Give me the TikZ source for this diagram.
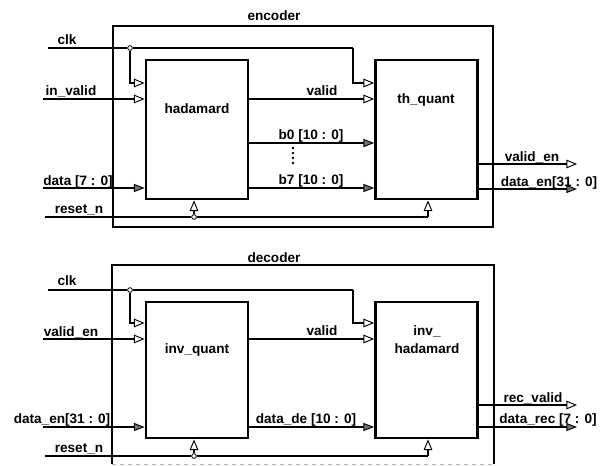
\documentclass[tikz,border=0pt]{standalone}
\usepackage{fontspec}
\setmainfont{Liberation Sans}
\usepackage{tikz}
\usetikzlibrary{arrows.meta,positioning,calc}

\begin{document}
\begin{tikzpicture}[
    x=0.75pt, y=-0.75pt,
    font=\fontsize{10.2}{11}\selectfont\bfseries,
    frame/.style={rectangle, draw, line width=1.4pt, minimum width=285pt, minimum height=#1, inner sep=0pt},
    unit/.style={rectangle, draw, line width=2.1pt, minimum width=76.5pt, minimum height=#1, inner sep=0pt},
    wire/.style={line width=0.9pt},
    sig/.style={wire, -{Triangle[open, length=8pt, width=6.5pt, line width=0.7pt]}},
    bus/.style={wire, -{Triangle[length=8pt, width=6pt, line width=0.7pt, fill=black!55]}},
    tap/.style={circle, draw, fill=white, line width=0.6pt, inner sep=0pt, minimum size=3.5pt},
    txt/.style={anchor=base, inner sep=0pt},
]
\useasboundingbox (0,0) rectangle (614,465);

% --- Encoder ---
\node[frame=150.75pt] (enc) at (303,126.5) {};
\node[txt] (enc-lbl) at (274,20) {encoder};
\node[unit=104.25pt] (had) at (197,129.5) {};
\node[unit=104.25pt] (thq) at (426.5,129.5) {};
\node[txt] (had-lbl) at (197,113) {hadamard};
\node[txt] (thq-lbl) at (426,103) {th\_quant};

\coordinate (e-clk) at (48,48);
\coordinate (e-clk-k) at (353,48);
\coordinate (e-in) at (43,99);
\coordinate (e-data) at (43,188);
\coordinate (e-rst) at (45,217);
\coordinate (e-rst-k) at (428,217);
\coordinate (e-ven) at (577,164);
\coordinate (e-den) at (577,189);
\node[tap] (e-clk-j) at (130,48) {};
\node[tap] (e-rst-j) at (194,217) {};

% --- Encoder wires ---
\draw[wire] (e-clk) -- (e-clk-j) -- (e-clk-k);
\draw[sig] (e-clk-k) |- (thq.west |- 0,83);
\draw[sig] (e-clk-j) |- (had.west |- 0,83);
\draw[sig] (e-in) -- (had.west |- e-in);
\draw[bus] (e-data) -- (had.west |- e-data);
\draw[sig] (had.east |- 0,99) -- (thq.west |- 0,99);
\draw[bus] (had.east |- 0,143) -- (thq.west |- 0,143);
\draw[bus] (had.east |- 0,188) -- (thq.west |- 0,188);
\draw[wire] (e-rst) -- (e-rst-j) -- (e-rst-k);
\draw[sig] (e-rst-k) -- (thq.south -| e-rst-k);
\draw[sig] (e-rst-j) -- (had.south -| e-rst-j);
\draw[sig] (thq.east |- e-ven) -- (e-ven);
\draw[bus] (thq.east |- e-den) -- (e-den);
\foreach \y in {148,153,158,163}
  \fill (293,\y) circle (1.3);

% --- Encoder labels ---
\node[txt] (e-clk-l) at (67,44) {clk};
\node[txt] (e-in-l) at (71,95) {in\_valid};
\node[txt] (e-data-l) at (78,185) {data [7 : 0]};
\node[txt] (e-rst-l) at (79,213) {reset\_n};
\node[txt] (e-val-l) at (322,95) {valid};
\node[txt] (e-b0-l) at (311,139) {b0 [10 : 0]};
\node[txt] (e-b7-l) at (311,184) {b7 [10 : 0]};
\node[txt] (e-ven-l) at (532,161) {valid\_en};
\node[txt] (e-den-l) at (549,186) {data\_en[31 : 0]};

% --- Decoder ---
\node[frame=147.75pt, draw=none] (dec) at (303,364.5) {};
\draw[line width=1.4pt] (dec.south west) |- (dec.north east) -- (dec.south east);
\draw[black!30, line width=0.6pt, dashed] (dec.south west) -- (dec.south east);
\node[txt] (dec-lbl) at (274,262) {decoder};
\node[unit=102pt] (iq) at (197,370) {};
\node[unit=102pt] (ih) at (426.5,370) {};
\node[txt] (iq-lbl) at (197,353) {inv\_quant};
\node[txt, align=center] (ih-lbl) at (427,353) {inv\_\\[2pt]hadamard};

\coordinate (d-clk) at (48,290);
\coordinate (d-clk-k) at (353,290);
\coordinate (d-in) at (43,339);
\coordinate (d-data) at (43,427);
\coordinate (d-rst) at (45,456);
\coordinate (d-rst-k) at (428,456);
\coordinate (d-rv) at (577,405);
\coordinate (d-dr) at (577,427);
\node[tap] (d-clk-j) at (130,290) {};
\node[tap] (d-rst-j) at (194,456) {};

% --- Decoder wires ---
\draw[wire] (d-clk) -- (d-clk-j) -- (d-clk-k);
\draw[sig] (d-clk-k) |- (ih.west |- 0,323);
\draw[sig] (d-clk-j) |- (iq.west |- 0,323);
\draw[sig] (d-in) -- (iq.west |- d-in);
\draw[bus] (d-data) -- (iq.west |- d-data);
\draw[sig] (iq.east |- 0,339) -- (ih.west |- 0,339);
\draw[bus] (iq.east |- 0,427) -- (ih.west |- 0,427);
\draw[wire] (d-rst) -- (d-rst-j) -- (d-rst-k);
\draw[sig] (d-rst-k) -- (ih.south -| d-rst-k);
\draw[sig] (d-rst-j) -- (iq.south -| d-rst-j);
\draw[sig] (ih.east |- d-rv) -- (d-rv);
\draw[bus] (ih.east |- d-dr) -- (d-dr);

% --- Decoder labels ---
\node[txt] (d-clk-l) at (67,285) {clk};
\node[txt] (d-in-l) at (71,336) {valid\_en};
\node[txt] (d-data-l) at (62,423) {data\_en[31 : 0]};
\node[txt] (d-rst-l) at (79,452) {reset\_n};
\node[txt] (d-val-l) at (322,335) {valid};
\node[txt] (d-de-l) at (306,423) {data\_de [10 : 0]};
\node[txt] (d-rv-l) at (533,402) {rec\_valid};
\node[txt] (d-dr-l) at (548,423) {data\_rec [7 : 0]};

\end{tikzpicture}
\end{document}
